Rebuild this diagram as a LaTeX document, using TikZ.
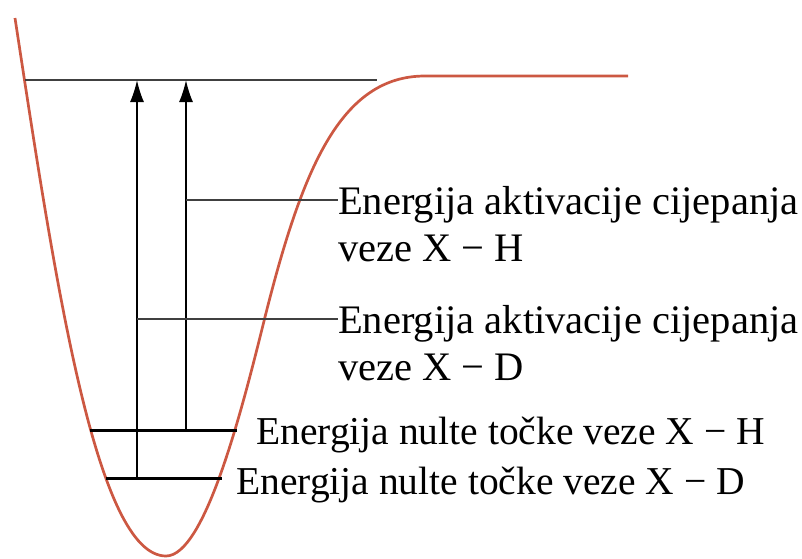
\documentclass[tikz,border=0pt]{standalone}
\usepackage{fontspec}
\setmainfont{Liberation Serif}
\usepackage{xcolor}
\usetikzlibrary{arrows.meta, positioning}

\definecolor{morse}{RGB}{204,88,66}

\begin{document}
\begin{tikzpicture}[x=1pt, y=-1pt,
        curve/.style={draw=morse, line width=2.7pt},
        zplevel/.style={line width=3pt},
        guide/.style={draw=black!75, line width=1.2pt},
        arr/.style={-{Latex[length=22pt,width=14pt]}, line width=1.5pt},
        txt/.style={font=\fontsize{39.5}{47}\selectfont, inner sep=0pt, align=left}]
        \useasboundingbox (0,0) rectangle (802,558);

        % potential energy curve
        \draw[curve] (15,18) .. controls (55,280) and (96,556) .. (166,556)
                     .. controls (205,556) and (242,410) .. (265,317)
                     .. controls (302,170) and (340,76) .. (425,76) -- (628,76);

        \coordinate (lim) at (25,80);
        \coordinate (limE) at (377,80);
        \draw[guide] (lim) -- (limE);

        % zero point levels
        \coordinate (zH1) at (90,430);
        \coordinate (zH2) at (237,430);
        \coordinate (zD1) at (106,478);
        \coordinate (zD2) at (222,478);
        \draw[zplevel] (zH1) -- (zH2);
        \draw[zplevel] (zD1) -- (zD2);

        \coordinate (aD) at (137,478);
        \coordinate (aH) at (186,430);
        \draw[arr] (aD) -- (aD |- lim);
        \draw[arr] (aH) -- (aH |- lim);

        \node[txt, font=\fontsize{40.5}{47}\selectfont, anchor=north west] (actH) at (338,186) {Energija aktivacije cijepanja\\veze X − H};
        \node[txt, font=\fontsize{40.5}{47}\selectfont, anchor=north west] (actD) at (338,305) {Energija aktivacije cijepanja\\veze X − D};
        \node[txt, anchor=base west] (zpH) at (256,444) {Energija nulte točke veze X − H};
        \node[txt, anchor=base west] (zpD) at (236,494) {Energija nulte točke veze X − D};

        \coordinate (lH) at (186,200);
        \coordinate (lD) at (137,319);
        \draw[guide] (lH) -- (lH -| actH.west);
        \draw[guide] (lD) -- (lD -| actD.west);
\end{tikzpicture}
\end{document}
